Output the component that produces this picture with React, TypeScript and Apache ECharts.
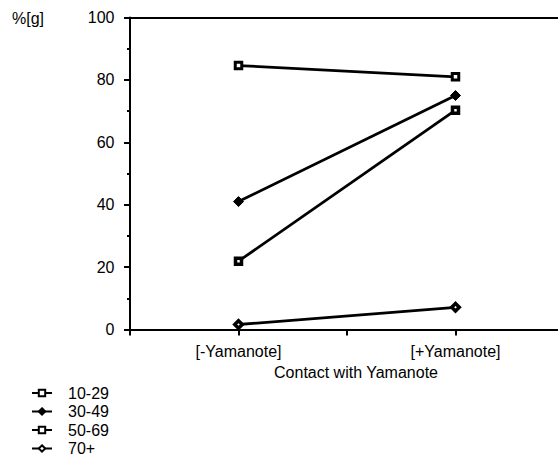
import React, { useEffect, useRef } from "react";
import * as echarts from "echarts";

const categories = ["[-Yamanote]", "[+Yamanote]"];
const seriesNames = ["10-29", "30-49", "50-69", "70+"];
const values1029 = [84.6, 81.0];
const values3049 = [41.0, 75.0];
const values5069 = [21.9, 70.3];
const values70 = [1.6, 7.1];
const yTicks = [0, 20, 40, 60, 80, 100];
const yLabel = "%[g]";
const xTitle = "Contact with Yamanote";

const FONT = '"Liberation Sans", Arial, Helvetica, sans-serif';

// category i sits at x-position 1 + 2*i on the value axis
const catPos = (i: number) => 1 + 2 * i;

export default function App() {
  const ref = useRef<HTMLDivElement>(null);
  useEffect(() => {
    if (!ref.current) return;
    const chart = echarts.init(ref.current, undefined, { renderer: "svg" });
    const all = [values1029, values3049, values5069, values70];
    const symbols = [
      { symbol: "rect", size: 6.5, fill: "#fff", bw: 3 },
      { symbol: "diamond", size: 10, fill: "#000", bw: 1 },
      { symbol: "rect", size: 6, fill: "#fff", bw: 3.5 },
      { symbol: "diamond", size: 7.5, fill: "#fff", bw: 3.5 },
    ];
    const series = all.map((vals, s) => ({
      name: seriesNames[s],
      type: "line",
      data: vals.map((v, i) => [catPos(i), v]),
      symbol: symbols[s].symbol,
      symbolSize: symbols[s].size,
      lineStyle: { color: "#000", width: 2.8 },
      itemStyle: {
        color: symbols[s].fill,
        borderColor: "#000",
        borderWidth: symbols[s].bw,
      },
      z: 3,
    }));
    chart.setOption({
      animation: false,
      grid: {
        left: 130,
        width: 434,
        top: 17.5,
        bottom: 145.5,
        containLabel: false,
        outerBoundsMode: "none",
      },
      xAxis: [
        {
          type: "value",
          min: 0,
          max: 4,
          interval: 1,
          splitLine: { show: false },
          axisLine: { show: true, lineStyle: { color: "#000", width: 2 } },
          axisTick: { show: true, inside: false, length: 6, lineStyle: { color: "#000", width: 2 } },
          axisLabel: {
            color: "#000",
            fontSize: 16,
            fontFamily: FONT,
            margin: 14,
            formatter: (v: number) => {
              const idx = categories.findIndex((_, i) => catPos(i) === v);
              return idx >= 0 ? categories[idx] : "";
            },
          },
        },
        {
          type: "value",
          position: "top",
          min: 0,
          max: 4,
          splitLine: { show: false },
          axisLine: { show: true, lineStyle: { color: "#000", width: 2 } },
          axisTick: { show: false },
          axisLabel: { show: false },
        },
      ],
      yAxis: {
        type: "value",
        min: yTicks[0],
        max: yTicks[yTicks.length - 1],
        interval: 20,
        offset: 1.5,
        splitLine: { show: false },
        axisLine: { show: true, lineStyle: { color: "#000", width: 2 } },
        axisTick: { show: true, length: 6, lineStyle: { color: "#000", width: 2 } },
        minorTick: { show: true, splitNumber: 2, length: 3, lineStyle: { color: "#000", width: 2 } },
        axisLabel: { color: "#000", fontSize: 16, fontFamily: FONT, margin: 14 },
      },
      legend: {
        orient: "vertical",
        left: 26,
        top: 380,
        itemWidth: 20,
        itemHeight: 8,
        itemGap: 2.5,
        data: seriesNames,
        textStyle: { color: "#000", fontSize: 16, fontFamily: FONT, padding: [0, 0, 0, 11] },
      },
      graphic: [
        {
          type: "text",
          x: 12,
          y: 18,
          style: { text: yLabel, fill: "#000", font: `16px ${FONT}`, align: "left", verticalAlign: "middle" },
        },
        {
          type: "text",
          x: 356,
          y: 372,
          style: { text: xTitle, fill: "#000", font: `16px ${FONT}`, align: "center", verticalAlign: "middle" },
        },
      ],
      series,
    });
    return () => chart.dispose();
  }, []);
  return (
    <div
      ref={ref}
      style={{ position: "fixed", left: 0, top: 0, width: 558, height: 475, background: "#fff" }}
    />
  );
}
